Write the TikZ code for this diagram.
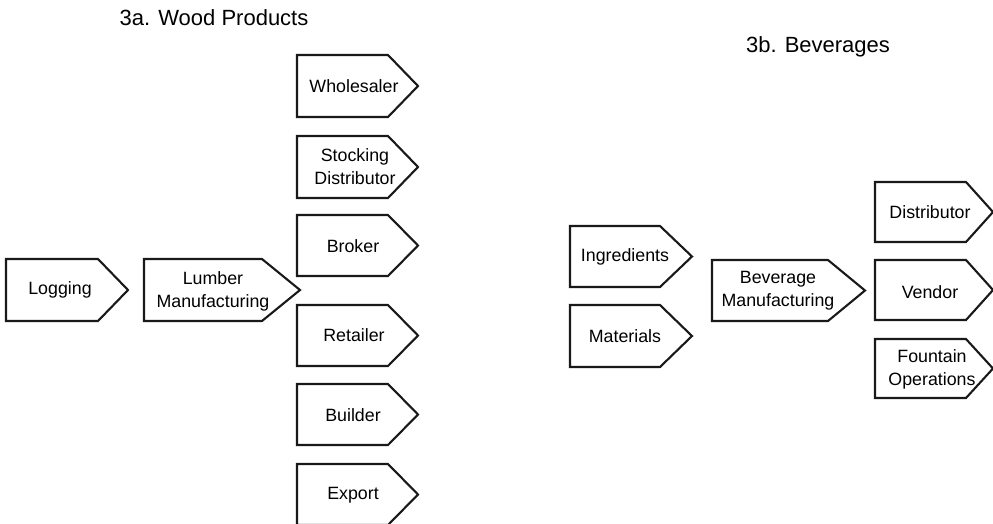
\documentclass[tikz,border=0pt]{standalone}
\usepackage{fontspec}
\setmainfont{Liberation Sans}
\begin{document}
\begin{tikzpicture}[x=1pt,y=-1pt,
  tagline/.style={draw=black!90,line width=2.1pt,line join=miter},
  tagtext/.style={font=\fontsize{17.8}{23}\selectfont,align=center,inner sep=0pt},
  titletext/.style={font=\fontsize{22}{26}\selectfont,inner sep=0pt}]
\useasboundingbox (0,0) rectangle (993,523);
% \tagshape{left}{bodyright}{tip}{top}{bottom}
\newcommand{\tagshape}[5]{%
  \draw[tagline] (#1,#4) -- (#2,#4) -- (#3,{(#4+#5)/2}) -- (#2,#5) -- (#1,#5) -- cycle;}
% titles
\node[titletext] (ta) at (214,18) {3a. Wood Products};
\node[titletext] (tb) at (818,47) {3b. Beverages};
% wood products
\tagshape{6}{98}{128}{259}{321}
\node[tagtext] (logging) at (60,290) {Logging};
\tagshape{144}{262}{300}{259}{321}
\node[tagtext] (lumber) at (213,291) {Lumber\\Manufacturing};
\tagshape{297}{388}{418}{55}{117}
\node[tagtext] (wholesaler) at (354,86) {Wholesaler};
\tagshape{297}{388}{418}{136}{198}
\node[tagtext] (stocking) at (355,167) {Stocking\\Distributor};
\tagshape{297}{388}{418}{215}{276}
\node[tagtext] (broker) at (353,246) {Broker};
\tagshape{297}{388}{418}{305}{366}
\node[tagtext] (retailer) at (354,335) {Retailer};
\tagshape{297}{388}{418}{384}{445}
\node[tagtext] (builder) at (353,415) {Builder};
\tagshape{297}{388}{418}{464}{525}
\node[tagtext] (export) at (353,495) {Export};
% beverages
\tagshape{570}{660}{692}{226}{287}
\node[tagtext] (ingredients) at (625,257) {Ingredients};
\tagshape{570}{660}{692}{305}{367}
\node[tagtext] (materials) at (625,336) {Materials};
\tagshape{712}{828}{865}{260}{321}
\node[tagtext] (beverage) at (778,291) {Beverage\\Manufacturing};
\tagshape{875}{966}{993}{182}{242}
\node[tagtext] (distributor) at (930,212) {Distributor};
\tagshape{875}{966}{993}{260}{320}
\node[tagtext] (vendor) at (930,292) {Vendor};
\tagshape{875}{966}{993}{339}{398}
\node[tagtext] (fountain) at (932,369) {Fountain\\Operations};
\end{tikzpicture}
\end{document}
